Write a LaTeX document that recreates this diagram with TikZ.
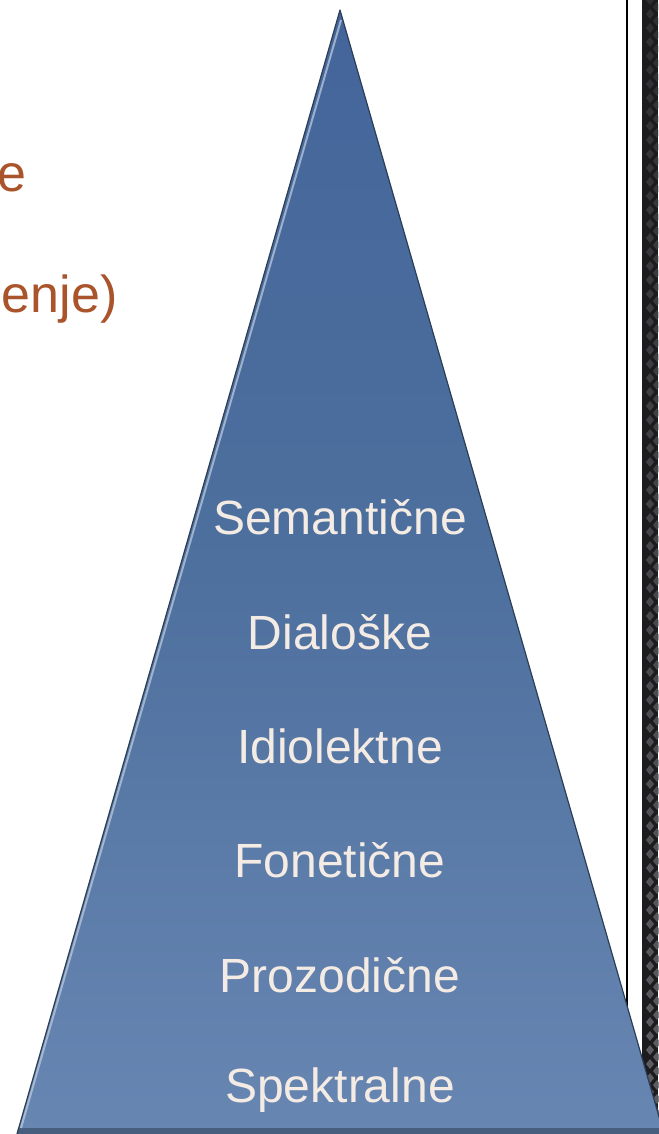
\documentclass[tikz,border=0pt]{standalone}
\usepackage{fontspec}
\setmainfont{Liberation Sans}
\usetikzlibrary{calc}
\definecolor{rust}{HTML}{A9542A}
\definecolor{pyrtop}{HTML}{43659A}
\definecolor{pyrmid}{HTML}{4E709E}
\definecolor{pyrbot}{HTML}{6886B2}
\definecolor{pyredge}{HTML}{2C3E55}
\definecolor{labeltext}{HTML}{F4ECE4}
\definecolor{bandbg}{HTML}{1C1C1E}
\definecolor{banddot}{HTML}{6A6A70}
\tikzset{
  level/.style={text=labeltext, font=\fontsize{48}{52}\selectfont, anchor=center},
  sidetext/.style={text=rust, font=\fontsize{52}{56}\selectfont, anchor=base east},
}
\begin{document}
\begin{tikzpicture}[x=1pt,y=-1pt]
  \useasboundingbox (0,0) rectangle (658,1134);
  \fill[white] (0,0) rectangle (658,1134);

  % patterned border band on the right
  \fill[bandbg] (642,0) rectangle (658,1134);
  \foreach \yy in {0,14,...,1134} {
    \pgfmathsetmacro{\op}{0.25+0.6*\yy/1134}
    \fill[banddot, opacity=\op] (650,\yy-5) -- (654,\yy) -- (650,\yy+5) -- (646,\yy) -- cycle;
    \fill[banddot, opacity=\op] (657,\yy+2) -- (661,\yy+7) -- (657,\yy+12) -- (653,\yy+7) -- cycle;
  }
  % thin rule
  \draw[black, line width=2.6pt] (627,0) -- (627,1134);

  % partial headings on the left
  \node[sidetext] (h1) at (30,192) {e};
  \node[sidetext] (h2) at (121,312) {enje)};

  % pyramid
  \coordinate (apex) at (340,10);
  \coordinate (bl) at (17,1134);
  \coordinate (br) at (664,1134);
  \shade[top color=pyrtop, bottom color=pyrbot, middle color=pyrmid]
    (apex) -- (br) -- (bl) -- cycle;
  \fill[pyredge, opacity=0.55] (18,1128) -- (663,1128) -- (664,1134) -- (17,1134) -- cycle;
  \draw[pyredge, line width=1.2pt, line join=round] (bl) -- (apex) -- (br);
  \draw[white!60!pyrbot, line width=2pt, opacity=0.7] ($(bl)+(4,-6)$) -- ($(apex)+(1,10)$);

  % levels
  \node[level] (l1) at (340,517) {Semantične};
  \node[level] (l2) at (340,632) {Dialoške};
  \node[level] (l3) at (340,746) {Idiolektne};
  \node[level] (l4) at (340,860) {Fonetične};
  \node[level] (l5) at (340,975) {Prozodične};
  \node[level] (l6) at (340,1090) {Spektralne};
\end{tikzpicture}
\end{document}
